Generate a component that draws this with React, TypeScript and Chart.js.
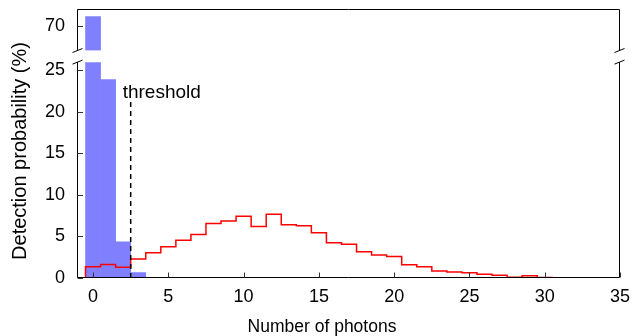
import { useEffect, useRef } from 'react';
import { Chart, registerables } from 'chart.js';

Chart.register(...registerables);

// ---- data ----
const blueCounts = [0, 1, 2, 3, 4];
const blueValues = [71.1, 23.9, 4.36, 0.64, 0.08];

const redCounts = [
  0, 1, 2, 3, 4, 5, 6, 7, 8, 9, 10, 11, 12, 13, 14, 15, 16, 17,
  18, 19, 20, 21, 22, 23, 24, 25, 26, 27, 28, 29, 30, 31, 32, 33, 34,
];
const redValues = [
  1.36, 1.64, 1.28, 2.28, 3.04, 3.76, 4.56, 5.24, 6.56, 6.88, 7.44, 6.2,
  7.68, 6.4, 6.28, 5.44, 4.24, 4.08, 3.16, 2.76, 2.6, 1.6, 1.36, 0.84,
  0.72, 0.64, 0.44, 0.32, 0.08, 0.28, 0.05, 0.04, 0.03, 0.02, 0.02,
];

const xTickValues = [0, 5, 10, 15, 20, 25, 30, 35];
const yLowTicks = [0, 5, 10, 15, 20, 25];
const yHighTicks = [70];
const xRange = [-1, 35];
const yLowRange = [0, 26];
const yHighRange = [67, 72];
const gapUnits = 1.4;

const thresholdX = 2.5;
const thresholdTop = 21.2;
const thresholdLabel = 'threshold';
const xTitle = 'Number of photons';
const yTitle = 'Detection probability (%)';

const FONT = "'Liberation Sans', Arial, sans-serif";

const framePlugin = {
  id: 'brokenFrame',
  afterLayout(chart: any) {
    const a = chart.chartArea;
    const hi = chart.scales.yTop;
    const lo = chart.scales.y;
    const hiUnits = yHighRange[1] - yHighRange[0];
    const loUnits = yLowRange[1] - yLowRange[0];
    const ppu = (a.bottom - a.top) / (hiUnits + gapUnits + loUnits);
    hi.top = a.top;
    hi.bottom = a.top + hiUnits * ppu;
    hi.height = hi.bottom - hi.top;
    lo.bottom = a.bottom;
    lo.top = a.bottom - loUnits * ppu;
    lo.height = lo.bottom - lo.top;
    hi.configure();
    lo.configure();
  },
  afterDatasetsDraw(chart: any) {
    const { ctx, chartArea } = chart;
    const xs = chart.scales.x;
    const yLow = chart.scales.y;
    const yHigh = chart.scales.yTop;
    const L = Math.round(chartArea.left) - 0.5;
    const R = Math.round(chartArea.right) - 0.5;
    const hTop = Math.round(yHigh.top) + 0.5;
    const hBot = yHigh.bottom;
    const lTop = yLow.top;
    const lBot = Math.round(yLow.bottom) - 0.5;
    const seg = (x1: number, y1: number, x2: number, y2: number) => {
      ctx.beginPath();
      ctx.moveTo(x1, y1);
      ctx.lineTo(x2, y2);
      ctx.stroke();
    };
    ctx.save();
    ctx.strokeStyle = '#000';
    ctx.lineWidth = 1;
    // frame
    seg(L, hTop, R, hTop);
    seg(L, lBot, R, lBot);
    for (const s of [L, R]) {
      seg(s, hTop, s, hBot);
      seg(s, lTop, s, lBot);
      seg(s - 5, hBot + 2, s + 5, hBot - 2);
      seg(s - 5, lTop + 2, s + 5, lTop - 2);
    }
    // inward ticks
    ctx.strokeStyle = '#333';
    for (const v of xTickValues) {
      const px = Math.round(xs.getPixelForValue(v)) + 0.5;
      seg(px, lBot, px, lBot - 5);
    }
    for (const v of yLowTicks) {
      const py = Math.round(yLow.getPixelForValue(v)) + 0.5;
      seg(L, py, L + 5.5, py);
    }
    for (const v of yHighTicks) {
      const py = Math.round(yHigh.getPixelForValue(v)) + 0.5;
      seg(L, py, L + 5.5, py);
    }
    // threshold line
    const tx = xs.getPixelForValue(thresholdX);
    const ty0 = yLow.getPixelForValue(yLowRange[0]);
    const ty1 = yLow.getPixelForValue(thresholdTop);
    ctx.strokeStyle = '#000';
    ctx.lineWidth = 1.5;
    ctx.setLineDash([5, 4]);
    seg(tx, ty0, tx, ty1);
    ctx.setLineDash([]);
    ctx.fillStyle = '#000';
    ctx.font = `19px ${FONT}`;
    ctx.textAlign = 'left';
    ctx.textBaseline = 'alphabetic';
    ctx.fillText(thresholdLabel, tx - 8, ty1 - 3.5);
    ctx.restore();
  },
  afterDraw(chart: any) {
    const { ctx } = chart;
    ctx.save();
    ctx.fillStyle = '#000';
    ctx.font = `17.5px ${FONT}`;
    ctx.textAlign = 'center';
    ctx.textBaseline = 'alphabetic';
    ctx.fillText(xTitle, 322, 332);
    ctx.translate(20, 151);
    ctx.rotate(-Math.PI / 2);
    ctx.font = `20px ${FONT}`;
    ctx.textBaseline = 'middle';
    ctx.fillText(yTitle, 0, 0);
    ctx.restore();
  },
};

export default function App() {
  const ref = useRef<HTMLCanvasElement | null>(null);
  useEffect(() => {
    document.body.style.margin = '0';
    const canvas = ref.current;
    if (!canvas) return;

    const lowBars = blueCounts.map((n, i) => ({ x: n, y: Math.min(blueValues[i], yLowRange[1]) }));
    const highBars = blueCounts.map((n, i) => ({ x: n, y: blueValues[i] > yHighRange[0] ? blueValues[i] : null }));
    const last = redCounts.length - 1;
    const redPoints = [
      { x: redCounts[0] - 0.5, y: 0 },
      ...redCounts.map((n, i) => ({ x: n - 0.5, y: redValues[i] })),
      { x: redCounts[last] + 0.5, y: redValues[last] },
    ];

    const tickFont = { family: FONT, size: 18 };

    const chart = new Chart(canvas, {
      type: 'bar',
      data: {
        datasets: [
          {
            type: 'line',
            data: redPoints,
            yAxisID: 'y',
            borderColor: '#ff0000',
            borderWidth: 1.5,
            pointRadius: 0,
            stepped: 'before',
            fill: false,
            order: 0,
          } as any,
          {
            type: 'bar',
            data: lowBars,
            yAxisID: 'y',
            backgroundColor: 'rgb(128,128,255)',
            borderWidth: 0,
            barPercentage: 1,
            categoryPercentage: 1,
            grouped: false,
            order: 1,
          } as any,
          {
            type: 'bar',
            data: highBars,
            yAxisID: 'yTop',
            base: yHighRange[0],
            backgroundColor: 'rgb(128,128,255)',
            borderWidth: 0,
            barPercentage: 1,
            categoryPercentage: 1,
            grouped: false,
            order: 1,
          } as any,
        ],
      },
      options: {
        animation: false,
        responsive: false,
        devicePixelRatio: 1,
        layout: { padding: { top: 9, right: 14, left: 0, bottom: 0 } },
        plugins: { legend: { display: false }, tooltip: { enabled: false } },
        scales: {
          x: {
            type: 'linear',
            min: xRange[0],
            max: xRange[1],
            offset: false,
            grid: { display: false, drawTicks: false },
            border: { display: false },
            ticks: { color: '#000', font: tickFont, padding: 8, maxRotation: 0 },
            afterBuildTicks: (s: any) => { s.ticks = xTickValues.map((v) => ({ value: v })); },
            afterFit: (s: any) => {
              s.height = 58;
              s.paddingLeft = 0;
              s.paddingRight = 0;
            },
          },
          yTop: {
            type: 'linear',
            position: 'left',
            stack: 'ystack',
            stackWeight: yHighRange[1] - yHighRange[0],
            weight: 3,
            min: yHighRange[0],
            max: yHighRange[1],
            grid: { display: false, drawTicks: false },
            border: { display: false },
            ticks: { color: '#000', font: tickFont, padding: 13 },
            afterBuildTicks: (s: any) => { s.ticks = yHighTicks.map((v) => ({ value: v })); },
            afterFit: (s: any) => { s.width = 78; s.paddingTop = 0; s.paddingBottom = 0; },
          },
          y: {
            type: 'linear',
            position: 'left',
            stack: 'ystack',
            stackWeight: yLowRange[1] - yLowRange[0],
            weight: 1,
            min: yLowRange[0],
            max: yLowRange[1],
            grid: { display: false, drawTicks: false },
            border: { display: false },
            ticks: { color: '#000', font: tickFont, padding: 13 },
            afterBuildTicks: (s: any) => { s.ticks = yLowTicks.map((v) => ({ value: v })); },
            afterFit: (s: any) => { s.width = 78; s.paddingTop = 0; s.paddingBottom = 0; },
          },
        },
      } as any,
      plugins: [framePlugin],
    });
    return () => chart.destroy();
  }, []);

  return <canvas ref={ref} width={634} height={336} style={{ display: 'block' }} />;
}
